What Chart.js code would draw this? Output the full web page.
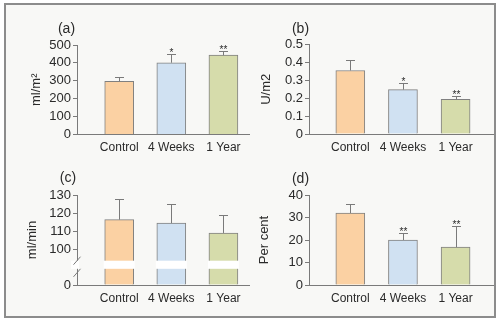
<!DOCTYPE html>
<html>
<head>
<meta charset="utf-8">
<script src="https://cdn.jsdelivr.net/npm/chart.js@4.4.1/dist/chart.umd.min.js"></script>
<style>
  html, body { margin: 0; padding: 0; background: #fff; }
  #wrap { position: relative; width: 500px; height: 322px; overflow: hidden; }
  #frame { position: absolute; left: 4px; top: 3px; width: 492px; height: 315px;
           box-sizing: border-box; border: 2px solid #8c8c8c; background: #f8f8f6; }
  canvas { position: absolute; }
</style>
</head>
<body>
<div id="wrap">
  <div id="frame"></div>
  <canvas id="chartA" width="250" height="161" style="left:0;top:0"></canvas>
  <canvas id="chartB" width="244" height="161" style="left:250px;top:0"></canvas>
  <canvas id="chartC" width="250" height="161" style="left:0;top:161px"></canvas>
  <canvas id="chartD" width="244" height="161" style="left:250px;top:161px"></canvas>
</div>
<script>
const groups = ['Control', '4 Weeks', '1 Year'];
const barColors = ['#fbd1a3', '#d0e1f2', '#d6dcab'];

// (a) stroke volume index
const volumeMean = [297, 401, 443];
const volumeSd = [22, 48, 24];
const volumeStars = ['', '*', '**'];

// (b) resistance
const resistMean = [0.355, 0.248, 0.193];
const resistSd = [0.057, 0.037, 0.02];
const resistStars = ['', '*', '**'];

// (c) flow, axis broken between 0 and 100
const flowMean = [116.3, 114.4, 108.9];
const flowSd = [11.5, 10.8, 10.1];
const flowStars = ['', '', ''];
const flowTicks = [0, 100, 110, 120, 130];

// (d) percentage
const pctMean = [32, 20, 16.8];
const pctSd = [3.9, 3.1, 9.4];
const pctStars = ['', '**', '**'];

const FONT = "'Liberation Sans', Arial, sans-serif";
const TEXT = '#2a2a2a';
const AXIS = '#7a7a7a';
const BAR_W = 29;

const same = v => v;
// broken axis: values from 100 up sit 80 units lower on the drawn scale
const flowAxis = v => (v >= 100 ? v - 80 : v);

function marks(cfg) {
  return {
    id: 'marks',
    afterDatasetsDraw(chart) {
      const { ctx, chartArea, scales: { x, y } } = chart;
      ctx.save();
      if (cfg.gap) {
        // white break band through the axis and every bar
        const g1 = y.getPixelForValue(cfg.gap[1]);
        const g0 = y.getPixelForValue(cfg.gap[0]);
        ctx.fillStyle = '#ffffff';
        ctx.fillRect(chartArea.left - 6, g1, 8, g0 - g1);
        cfg.mean.forEach((m, i) => {
          const cx = x.getPixelForValue(i + 1);
          ctx.fillRect(cx - BAR_W / 2 - 1, g1, BAR_W + 2, g0 - g1);
        });
        ctx.strokeStyle = AXIS;
        ctx.lineWidth = 1;
        [g1, g0 + 4].forEach(gy => {
          ctx.beginPath();
          ctx.moveTo(chartArea.left - 3.5, gy + 4);
          ctx.lineTo(chartArea.left + 3.5, gy - 4);
          ctx.stroke();
        });
      }
      ctx.strokeStyle = AXIS;
      ctx.lineWidth = 1;
      cfg.mean.forEach((m, i) => {
        const px = Math.round(x.getPixelForValue(i + 1)) + 0.5;
        const base = y.getPixelForValue(cfg.toAxis(m));
        const top = Math.round(y.getPixelForValue(cfg.toAxis(m + cfg.sd[i]))) + 0.5;
        ctx.beginPath();
        ctx.moveTo(px, base);
        ctx.lineTo(px, top);
        ctx.moveTo(px - 4.5, top);
        ctx.lineTo(px + 4.5, top);
        ctx.stroke();
        if (cfg.stars[i]) {
          ctx.fillStyle = TEXT;
          ctx.font = '10px ' + FONT;
          ctx.textAlign = 'center';
          ctx.textBaseline = 'alphabetic';
          ctx.fillText(cfg.stars[i], px, top + 1);
        }
      });
      ctx.fillStyle = TEXT;
      ctx.font = '14px ' + FONT;
      ctx.textAlign = 'center';
      ctx.textBaseline = 'middle';
      ctx.fillText(cfg.label, chartArea.left + cfg.labelDx, chartArea.top + cfg.labelDy);
      ctx.restore();
    }
  };
}

function panel(id, cfg) {
  const yScale = {
    min: 0,
    max: cfg.yMax,
    ticks: {
      stepSize: cfg.step,
      autoSkip: false,
      color: TEXT,
      font: { family: FONT, size: 13 },
      padding: 2
    },
    grid: { drawOnChartArea: false, drawTicks: true, tickLength: 4, color: AXIS, lineWidth: 1 },
    border: { color: AXIS, width: 1 },
    title: {
      display: true, text: cfg.title, color: TEXT,
      font: { family: FONT, size: 13 },
      padding: { top: cfg.titlePad, bottom: 0 }
    },
    afterFit: s => { s.width = cfg.yWidth; }
  };
  if (cfg.yTicks) {
    yScale.afterBuildTicks = s => { s.ticks = cfg.yTicks.map(v => ({ value: cfg.toAxis(v) })); };
    yScale.ticks.callback = (v, i) => String(cfg.yTicks[i]);
  }
  return new Chart(document.getElementById(id), {
    type: 'bar',
    data: {
      datasets: [{
        data: cfg.mean.map((v, i) => ({ x: i + 1, y: cfg.toAxis(v) })),
        backgroundColor: barColors,
        borderColor: '#808080',
        borderWidth: 1,
        barThickness: BAR_W
      }]
    },
    options: {
      responsive: false,
      animation: false,
      events: [],
      layout: { padding: { top: cfg.top, left: 0, right: 0, bottom: 0 } },
      plugins: { legend: { display: false }, tooltip: { enabled: false } },
      scales: {
        x: {
          type: 'linear',
          offset: false,
          min: cfg.xMin,
          max: cfg.xMax,
          grid: { display: false, drawTicks: false, offset: false },
          border: { color: AXIS, width: 1 },
          ticks: {
            color: TEXT,
            font: { family: FONT, size: 12 },
            padding: 6,
            autoSkip: false,
            maxRotation: 0,
            callback: v => groups[v - 1] || ''
          },
          afterBuildTicks: s => { s.ticks = groups.map((g, i) => ({ value: i + 1 })); },
          afterFit: s => { s.height = cfg.xHeight; }
        },
        y: yScale
      }
    },
    plugins: [marks(cfg)]
  });
}

panel('chartA', {
  mean: volumeMean, sd: volumeSd, stars: volumeStars, toAxis: same,
  yMax: 500, step: 100, title: 'ml/m²', titlePad: 29, yWidth: 77,
  top: 45, xHeight: 26.5, xMin: 0.19, xMax: 3.51,
  label: '(a)', labelDx: -10.5, labelDy: -15.5
});

panel('chartB', {
  mean: resistMean, sd: resistSd, stars: resistStars, toAxis: same,
  yMax: 0.5, step: 0.1, title: 'U/m2', titlePad: 9, yWidth: 59,
  top: 44.5, xHeight: 27, xMin: 0.215, xMax: 3.73,
  label: '(b)', labelDx: -8.5, labelDy: -15.5
});

panel('chartC', {
  mean: flowMean, sd: flowSd, stars: flowStars, toAxis: flowAxis,
  yMax: 50, yTicks: flowTicks, gap: [9, 13.5], title: 'ml/min', titlePad: 25, yWidth: 77,
  top: 34, xHeight: 37, xMin: 0.19, xMax: 3.51,
  label: '(c)', labelDx: -9, labelDy: -17
});

panel('chartD', {
  mean: pctMean, sd: pctSd, stars: pctStars, toAxis: same,
  yMax: 40, step: 10, title: 'Per cent', titlePad: 7, yWidth: 59,
  top: 34, xHeight: 37, xMin: 0.215, xMax: 3.73,
  label: '(d)', labelDx: -8.5, labelDy: -16
});
</script>
</body>
</html>
